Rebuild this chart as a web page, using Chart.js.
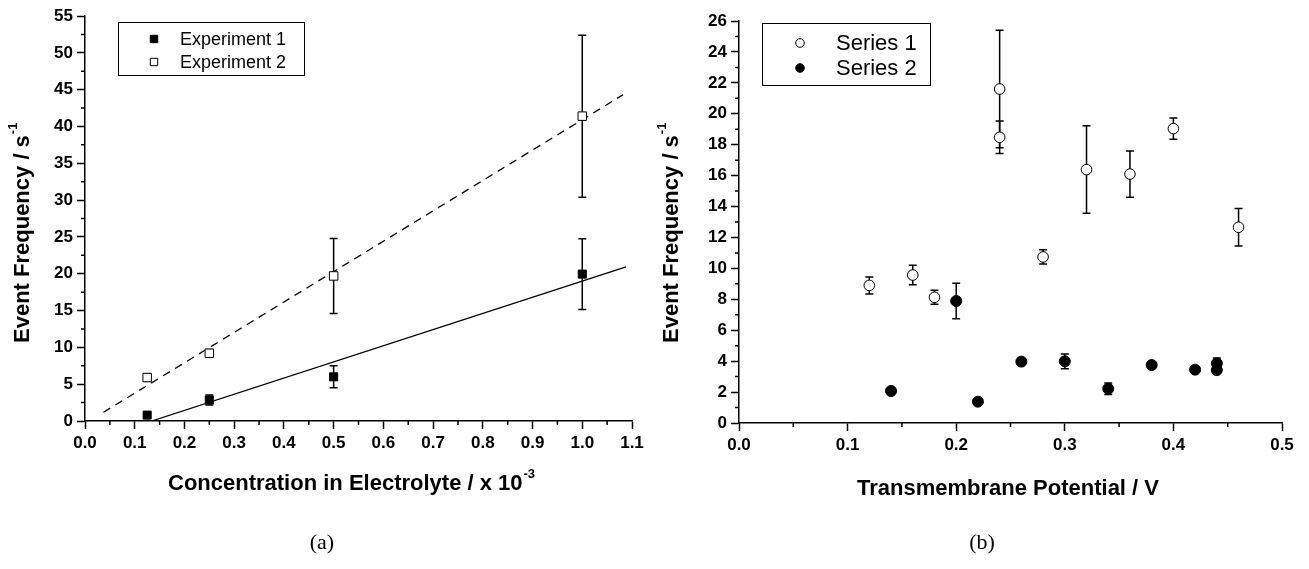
<!DOCTYPE html>
<html>
<head>
<meta charset="utf-8">
<script src="https://cdn.jsdelivr.net/npm/chart.js@4.4.0/dist/chart.umd.min.js"></script>
<style>
  body { margin: 0; background: #fff; }
  #wrap { position: relative; width: 1309px; height: 569px; }
  canvas { position: absolute; top: 0; }
  #chartA { left: 0; }
  #chartB { left: 655px; }
  .cap { position: absolute; top: 529px; width: 60px; text-align: center;
         font-family: 'Liberation Serif', 'DejaVu Serif', serif; font-size: 22px; color: #000; }
</style>
</head>
<body>
<div id="wrap">
  <canvas id="chartA" width="650" height="569"></canvas>
  <canvas id="chartB" width="654" height="569"></canvas>
  <div class="cap" style="left:292px">(a)</div>
  <div class="cap" style="left:952px">(b)</div>
</div>
<script>
// (a) concentration data
const concX   = [0.125, 0.25, 0.5, 1.0];
const exp1Y   = [0.8, 2.85, 6.0, 19.95];
const exp1Err = [0.3, 0.68, 1.5, 4.8];
const exp2Y   = [5.9, 9.2, 19.7, 41.4];
const exp2Err = [0.5, 0.5, 5.1, 11.0];
// linear fits
const fit1X = [0.134, 1.088];
const fit1Y = [0, 20.94];
const fit2X = [0.037, 1.082];
const fit2Y = [1.18, 44.3];

// (b) potential data
const s1X   = [0.12, 0.16, 0.18, 0.24, 0.24, 0.28, 0.32, 0.36, 0.40, 0.46];
const s1Y   = [8.9, 9.57, 8.13, 21.6, 18.48, 10.74, 16.39, 16.1, 19.04, 12.66];
const s1Err = [0.55, 0.63, 0.45, 3.8, 1.05, 0.46, 2.83, 1.5, 0.69, 1.22];
const s2X   = [0.14, 0.20, 0.22, 0.26, 0.30, 0.34, 0.38, 0.42, 0.44, 0.44];
const s2Y   = [2.07, 7.89, 1.38, 3.97, 3.99, 2.22, 3.75, 3.45, 3.85, 3.42];
const s2Err = [0.1, 1.15, 0.1, 0.15, 0.48, 0.37, 0.15, 0.1, 0.35, 0.1];

Chart.defaults.font.family = "'Liberation Sans', Arial, sans-serif";
Chart.defaults.color = '#000';

const pts = (xs, ys) => xs.map((x, i) => ({x: x, y: ys[i]}));

// vertical error bars with caps, drawn behind the markers
const errorBars = {
  id: 'errorBars',
  beforeDatasetsDraw(chart) {
    const {ctx, scales: {x, y}} = chart;
    ctx.save();
    ctx.strokeStyle = '#000';
    ctx.lineWidth = 1.5;
    chart.data.datasets.forEach(ds => {
      if (!ds.errors) return;
      ds.data.forEach((p, i) => {
        const e = ds.errors[i];
        const px = x.getPixelForValue(p.x);
        const top = y.getPixelForValue(p.y + e);
        const bot = y.getPixelForValue(p.y - e);
        ctx.beginPath();
        ctx.moveTo(px, top); ctx.lineTo(px, bot);
        ctx.moveTo(px - 4, top); ctx.lineTo(px + 4, top);
        ctx.moveTo(px - 4, bot); ctx.lineTo(px + 4, bot);
        ctx.stroke();
      });
    });
    ctx.restore();
  }
};

// short minor ticks halfway between the major ones
const minorTicks = {
  id: 'minorTicks',
  afterDraw(chart, args, opts) {
    const {ctx, chartArea, scales: {x, y}} = chart;
    ctx.save();
    ctx.strokeStyle = '#000';
    ctx.lineWidth = 1.5;
    ctx.beginPath();
    const nx = Math.round((x.max - x.min) / opts.xStep);
    for (let k = 1; k < nx; k += 2) {
      const px = x.getPixelForValue(x.min + k * opts.xStep);
      ctx.moveTo(px, chartArea.bottom);
      ctx.lineTo(px, chartArea.bottom + 4);
    }
    const ny = Math.round((y.max - y.min) / opts.yStep);
    for (let k = 1; k < ny; k += 2) {
      const py = y.getPixelForValue(y.min + k * opts.yStep);
      ctx.moveTo(chartArea.left, py);
      ctx.lineTo(chartArea.left - 4, py);
    }
    ctx.stroke();
    ctx.restore();
  }
};

function drawMarker(ctx, style, fill, r, x, y) {
  ctx.beginPath();
  if (style === 'rect') {
    ctx.rect(x - r, y - r, 2 * r, 2 * r);
  } else {
    ctx.arc(x, y, r, 0, Math.PI * 2);
  }
  ctx.fillStyle = fill;
  ctx.fill();
  ctx.lineWidth = 1;
  ctx.strokeStyle = '#000';
  ctx.stroke();
}

// boxed legend inside the plot
const boxLegend = {
  id: 'boxLegend',
  afterDraw(chart, args, opts) {
    const {ctx} = chart;
    const b = opts.box;
    ctx.save();
    ctx.fillStyle = '#fff';
    ctx.fillRect(b.x, b.y, b.w, b.h);
    ctx.strokeStyle = '#000';
    ctx.lineWidth = 1;
    ctx.strokeRect(b.x + 0.5, b.y + 0.5, b.w, b.h);
    chart.data.datasets.forEach((ds, i) => {
      if (i >= opts.rows.length) return;
      const ry = opts.rows[i];
      drawMarker(ctx, ds.pointStyle, ds.backgroundColor, opts.markerSize, opts.markerX, ry);
      ctx.fillStyle = '#000';
      ctx.font = opts.font;
      ctx.textAlign = 'left';
      ctx.textBaseline = 'middle';
      ctx.fillText(ds.label, opts.textX, ry + 1);
    });
    ctx.restore();
  }
};

// axis titles with superscripts
function textWithSup(ctx, main, sup, x, y) {
  ctx.font = "bold 22px 'Liberation Sans', Arial, sans-serif";
  ctx.fillText(main, x, y);
  const w = ctx.measureText(main).width;
  ctx.font = "bold 13px 'Liberation Sans', Arial, sans-serif";
  ctx.fillText(sup, x + w + 1, y - 10);
}

const axisTitles = {
  id: 'axisTitles',
  afterDraw(chart, args, opts) {
    const {ctx} = chart;
    ctx.save();
    ctx.fillStyle = '#000';
    ctx.textAlign = 'left';
    ctx.textBaseline = 'middle';
    textWithSup(ctx, opts.x.main, opts.x.sup, opts.x.left, opts.x.y);
    ctx.translate(opts.y.x, opts.y.bottom);
    ctx.rotate(-Math.PI / 2);
    textWithSup(ctx, opts.y.main, opts.y.sup, 0, 0);
    ctx.restore();
  }
};

function axis(min, max, step, digits, fit) {
  return {
    type: 'linear',
    min: min,
    max: max,
    afterFit: fit,
    ticks: {
      stepSize: step,
      autoSkip: false,
      maxRotation: 0,
      minRotation: 0,
      padding: 4,
      color: '#000',
      font: {size: 17, weight: 'bold'},
      callback: v => v.toFixed(digits)
    },
    grid: {drawOnChartArea: false, tickLength: 8, tickWidth: 1.5, tickColor: '#000'},
    border: {color: '#000', width: 1.5}
  };
}

new Chart(document.getElementById('chartA'), {
  type: 'scatter',
  data: {
    datasets: [
      {label: 'Experiment 1', data: pts(concX, exp1Y), errors: exp1Err, pointStyle: 'rect',
       pointRadius: 5.7, backgroundColor: '#000', borderColor: '#000', borderWidth: 1},
      {label: 'Experiment 2', data: pts(concX, exp2Y), errors: exp2Err, pointStyle: 'rect',
       pointRadius: 6, backgroundColor: '#fff', borderColor: '#000', borderWidth: 1},
      {label: 'Fit 1', data: pts(fit1X, fit1Y), showLine: true, pointRadius: 0,
       borderColor: '#000', borderWidth: 1.3},
      {label: 'Fit 2', data: pts(fit2X, fit2Y), showLine: true, pointRadius: 0,
       borderColor: '#000', borderWidth: 1.3, borderDash: [8, 6]}
    ]
  },
  options: {
    responsive: false,
    animation: false,
    layout: {padding: {top: 16, right: 18, left: 0, bottom: 0}},
    scales: {
      x: axis(0, 1.1, 0.1, 1, s => { s.height = 148; }),
      y: axis(0, 55, 5, 0, s => { s.width = 85; })
    },
    plugins: {
      legend: {display: false},
      tooltip: {enabled: false},
      minorTicks: {xStep: 0.05, yStep: 2.5},
      boxLegend: {box: {x: 118, y: 22, w: 186, h: 53}, rows: [39, 62], markerX: 154,
                  markerSize: 3.7, textX: 180, font: "18px 'Liberation Sans', Arial, sans-serif"},
      axisTitles: {
        x: {main: 'Concentration in Electrolyte / x 10', sup: '-3', left: 168, y: 484},
        y: {main: 'Event Frequency / s', sup: '-1', x: 23, bottom: 343}
      }
    }
  },
  plugins: [errorBars, minorTicks, boxLegend, axisTitles]
});

new Chart(document.getElementById('chartB'), {
  type: 'scatter',
  data: {
    datasets: [
      {label: 'Series 1', data: pts(s1X, s1Y), errors: s1Err, pointStyle: 'circle',
       pointRadius: 5.3, backgroundColor: '#fff', borderColor: '#000', borderWidth: 1},
      {label: 'Series 2', data: pts(s2X, s2Y), errors: s2Err, pointStyle: 'circle',
       pointRadius: 5.5, backgroundColor: '#000', borderColor: '#000', borderWidth: 1}
    ]
  },
  options: {
    responsive: false,
    animation: false,
    layout: {padding: {top: 21, right: 27, left: 0, bottom: 0}},
    scales: {
      x: axis(0, 0.5, 0.1, 1, s => { s.height = 146; }),
      y: axis(0, 26, 2, 0, s => { s.width = 84; })
    },
    plugins: {
      legend: {display: false},
      tooltip: {enabled: false},
      minorTicks: {xStep: 0.05, yStep: 1},
      boxLegend: {box: {x: 107, y: 23, w: 168, h: 62}, rows: [43, 68], markerX: 145,
                  markerSize: 4.3, textX: 181, font: "22px 'Liberation Sans', Arial, sans-serif"},
      axisTitles: {
        x: {main: 'Transmembrane Potential / V', sup: '', left: 202, y: 489},
        y: {main: 'Event Frequency / s', sup: '-1', x: 17, bottom: 343}
      }
    }
  },
  plugins: [errorBars, minorTicks, boxLegend, axisTitles]
});
</script>
</body>
</html>
